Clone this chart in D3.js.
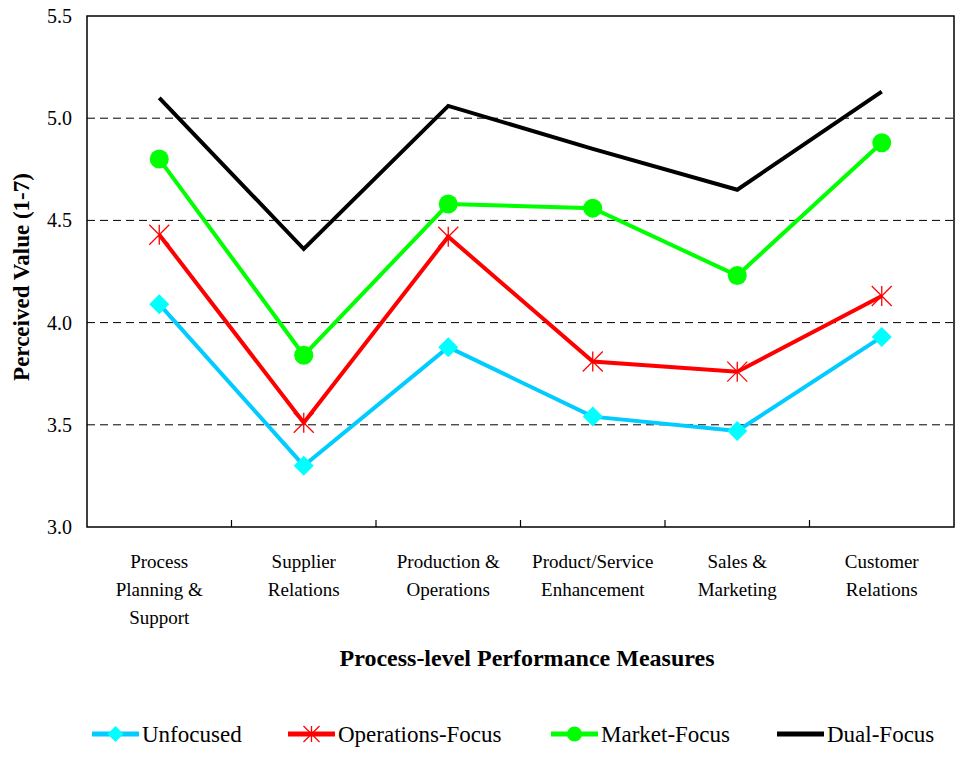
<!DOCTYPE html>
<html lang="en">
<head>
<meta charset="UTF-8">
<title>Perceived Value</title>
<script src="https://d3js.org/d3.v7.min.js"></script>
<style>
  body { margin: 0; background: #fff; }
  text { font-family: "Liberation Serif", "Times New Roman", serif; fill: #000; }
</style>
</head>
<body>
<script>
// categories (multi-line labels)
var categories = [
  ["Process", "Planning &", "Support"],
  ["Supplier", "Relations"],
  ["Production &", "Operations"],
  ["Product/Service", "Enhancement"],
  ["Sales &", "Marketing"],
  ["Customer", "Relations"]
];
var seriesNames = ["Unfocused", "Operations-Focus", "Market-Focus", "Dual-Focus"];
var unfocused  = [4.09, 3.30, 3.88, 3.54, 3.47, 3.93];
var opsFocus   = [4.43, 3.51, 4.42, 3.81, 3.76, 4.13];
var mktFocus   = [4.80, 3.84, 4.58, 4.56, 4.23, 4.88];
var dualFocus  = [5.10, 4.36, 5.06, 4.85, 4.65, 5.13];
var yTicks = [3.0, 3.5, 4.0, 4.5, 5.0, 5.5];
var gridTicks = [3.5, 4.0, 4.5, 5.0];

var width = 956, height = 761;
var plotLeft = 87, plotRight = 954, plotTop = 16, plotBottom = 527;

var svg = d3.select("body").append("svg").attr("width", width).attr("height", height);

var keys = categories.map(function(d, i) { return i; });
var x = d3.scaleBand().domain(keys).range([plotLeft, plotRight]);
var y = d3.scaleLinear().domain([3, 5.5]).range([plotBottom, plotTop]);

// grid lines
svg.append("g").selectAll("line").data(gridTicks).enter().append("line")
  .attr("x1", plotLeft).attr("x2", plotRight)
  .attr("y1", function(d) { return y(d); })
  .attr("y2", function(d) { return y(d); })
  .attr("stroke", "#000").attr("stroke-width", 1)
  .attr("stroke-dasharray", "8,5");

// frame
svg.append("rect").attr("x", plotLeft).attr("y", plotTop)
  .attr("width", plotRight - plotLeft).attr("height", plotBottom - plotTop)
  .attr("fill", "none").attr("stroke", "#000").attr("stroke-width", 1.5);

// y axis labels
svg.append("g").selectAll("text").data(yTicks).enter().append("text")
  .attr("x", 72).attr("y", function(d) { return y(d); })
  .attr("dy", "0.35em").attr("text-anchor", "end")
  .style("font-size", "20px")
  .text(function(d) { return d.toFixed(1); });

// x axis inner ticks
svg.append("g").selectAll("line").data(keys.slice(1)).enter().append("line")
  .attr("x1", function(d) { return x(d); }).attr("x2", function(d) { return x(d); })
  .attr("y1", plotBottom).attr("y2", plotBottom - 7)
  .attr("stroke", "#000").attr("stroke-width", 1.2);

// category labels
var cat = svg.append("g").selectAll("text").data(categories).enter().append("text")
  .attr("text-anchor", "middle")
  .style("font-size", "19px")
  .attr("transform", function(d, i) { return "translate(" + (x(i) + x.bandwidth() / 2) + ",568)"; });
cat.selectAll("tspan").data(function(d) { return d; }).enter().append("tspan")
  .attr("x", 0).attr("y", function(d, j) { return j * 28; })
  .text(function(d) { return d; });

// axis titles
svg.append("text").attr("x", 527).attr("y", 666).attr("text-anchor", "middle")
  .style("font-size", "24px").style("font-weight", "bold")
  .text("Process-level Performance Measures");
svg.append("text").attr("transform", "translate(29,277) rotate(-90)")
  .attr("text-anchor", "middle")
  .style("font-size", "23px").style("font-weight", "bold")
  .text("Perceived Value (1-7)");

var series = [
  { name: seriesNames[0], values: unfocused, color: "#00ccff", mcolor: "#00ffff", marker: "diamond" },
  { name: seriesNames[1], values: opsFocus, color: "#ff0000", mcolor: "#ff0000", marker: "star" },
  { name: seriesNames[2], values: mktFocus, color: "#00ff00", mcolor: "#00ff00", marker: "circle" },
  { name: seriesNames[3], values: dualFocus, color: "#000000", mcolor: "#000000", marker: "none" }
];

var line = d3.line()
  .x(function(d, i) { return x(i) + x.bandwidth() / 2; })
  .y(function(d) { return y(d); });

function drawMarker(g, type, color, cx, cy, sz) {
  var r = sz || 10;
  if (type === "diamond") {
    g.append("path").attr("d", "M" + cx + "," + (cy - r) + "L" + (cx + r) + "," + cy +
      "L" + cx + "," + (cy + r) + "L" + (cx - r) + "," + cy + "Z")
      .attr("fill", color);
  } else if (type === "circle") {
    g.append("circle").attr("cx", cx).attr("cy", cy).attr("r", r * 0.95).attr("fill", color);
  } else if (type === "star") {
    var segs = [[0, -r, 0, r], [-r, -r, r, r], [-r, r, r, -r]];
    segs.forEach(function(s) {
      g.append("line").attr("x1", cx + s[0]).attr("y1", cy + s[1])
        .attr("x2", cx + s[2]).attr("y2", cy + s[3])
        .attr("stroke", color).attr("stroke-width", 1.3);
    });
  }
}

series.forEach(function(s) {
  var g = svg.append("g");
  g.append("path").datum(s.values).attr("d", line)
    .attr("fill", "none").attr("stroke", s.color).attr("stroke-width", 4)
    .attr("stroke-linejoin", "miter");
  s.values.forEach(function(v, i) {
    drawMarker(g, s.marker, s.mcolor, x(i) + x.bandwidth() / 2, y(v), 10);
  });
});

// legend
var legendX = [92, 288, 551, 777];
series.forEach(function(s, i) {
  var g = svg.append("g").attr("transform", "translate(" + legendX[i] + ",734)");
  g.append("line").attr("x1", 0).attr("x2", 47).attr("y1", 0).attr("y2", 0)
    .attr("stroke", s.color).attr("stroke-width", 5);
  drawMarker(g, s.marker, s.mcolor, 23.5, 0, 8);
  g.append("text").attr("x", 50).attr("y", 0).attr("dy", "0.35em")
    .style("font-size", "23px").text(s.name);
});
</script>
</body>
</html>
